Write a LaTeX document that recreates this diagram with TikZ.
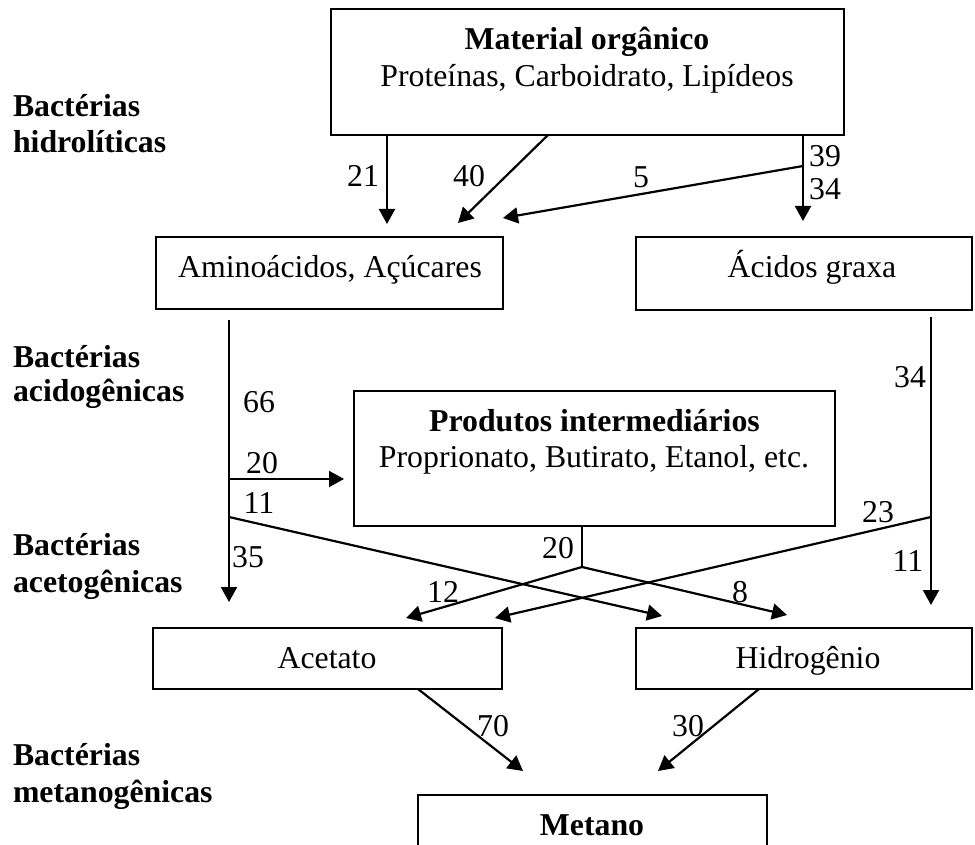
\documentclass[tikz,border=0pt]{standalone}
\usepackage{fontspec}
\setmainfont{Liberation Serif}
\usetikzlibrary{arrows.meta}
\begin{document}
\begin{tikzpicture}[x=1pt,y=-1pt,
  line width=2.2pt,
  box/.style={draw=black,line width=2.2pt,inner sep=0pt,outer sep=0pt},
  txt/.style={inner sep=0pt,outer sep=0pt,anchor=base,font=\fontsize{31.8}{38}\selectfont},
  btxt/.style={txt,font=\fontsize{31.8}{38}\selectfont\bfseries},
  side/.style={inner sep=0pt,outer sep=0pt,anchor=base west,font=\fontsize{31.8}{38}\selectfont\bfseries},
  arr/.style={-{Triangle[length=15pt,width=16pt]},line width=2.2pt},
  ln/.style={line width=2.2pt}]
\clip (0,0) rectangle (975,845);
\fill[white] (0,0) rectangle (975,845);

% boxes
\node[box,minimum width=513pt,minimum height=126pt] (mat) at (587.5,72) {};
\node[box,minimum width=347pt,minimum height=72pt] (amino) at (329.5,273) {};
\node[box,minimum width=336pt,minimum height=73pt] (acid) at (804,273.5) {};
\node[box,minimum width=481pt,minimum height=135pt] (prod) at (594.5,458.5) {};
\node[box,minimum width=349pt,minimum height=61pt] (acet) at (327.5,658.5) {};
\node[box,minimum width=336pt,minimum height=61pt] (hidro) at (804,658.5) {};
\node[box,minimum width=349pt,minimum height=120pt] (met) at (592.5,855) {};

% box texts
\node[btxt] (matT) at (587,50) {Material orgânico};
\node[txt] (matS) at (587,87) {Proteínas, Carboidrato, Lipídeos};
\node[txt] (aminoT) at (330,278) {Aminoácidos, Açúcares};
\node[txt] (acidT) at (812,277) {Ácidos graxa};
\node[btxt] (prodT) at (594.5,431) {Produtos intermediários};
\node[txt] (prodS) at (594,467) {Proprionato, Butirato, Etanol, etc.};
\node[txt] (acetT) at (327,668) {Acetato};
\node[txt] (hidroT) at (808,668) {Hidrogênio};
\node[btxt] (metT) at (592,835) {Metano};

% side labels
\node[side] (l1a) at (13,117) {Bactérias};
\node[side] (l1b) at (13,153) {hidrolíticas};
\node[side] (l2a) at (13,367) {Bactérias};
\node[side] (l2b) at (13,401) {acidogênicas};
\node[side] (l3a) at (13,555) {Bactérias};
\node[side] (l3b) at (13,592) {acetogênicas};
\node[side] (l4a) at (13,765) {Bactérias};
\node[side] (l4b) at (13,802) {metanogênicas};

% coordinates
\coordinate (t21) at (387,224);
\coordinate (s40) at (548,0);
\coordinate (t40) at (458,223);
\coordinate (c39) at (803,0);
\coordinate (j5) at (803,166);
\coordinate (t5) at (503,218);
\coordinate (t34a) at (803,221);
\coordinate (s35) at (229,320);
\coordinate (t35) at (229,602);
\coordinate (j20) at (229,479);
\coordinate (t20) at (344,479);
\coordinate (j11) at (229,517);
\coordinate (t11) at (662,616);
\coordinate (s34) at (931,317);
\coordinate (t11r) at (931,605);
\coordinate (j23) at (931,517);
\coordinate (t23) at (495,618);
\coordinate (s20p) at (582,0);
\coordinate (j20p) at (582,567);
\coordinate (t12) at (406,618);
\coordinate (t8) at (787,615);
\coordinate (s70) at (418,0);
\coordinate (t70) at (523,771);
\coordinate (s30) at (759,0);
\coordinate (t30) at (658,771);

% connectors
\draw[arr] (mat.south -| t21) -- (t21);
\draw[arr] (mat.south -| s40) -- (t40);
\draw[arr] (mat.south -| c39) -- (t34a);
\draw[arr] (j5) -- (t5);
\draw[arr] (s35) -- (t35);
\draw[arr] (j20) -- (t20);
\draw[arr] (j11) -- (t11);
\draw[arr] (s34) -- (t11r);
\draw[arr] (j23) -- (t23);
\draw[ln] (prod.south -| s20p) -- (j20p);
\draw[arr] (j20p) -- (t12);
\draw[arr] (j20p) -- (t8);
\draw[arr] (acet.south -| s70) -- (t70);
\draw[arr] (hidro.south -| s30) -- (t30);

% numbers
\node[txt] (n21) at (363,187) {21};
\node[txt] (n40) at (469,187) {40};
\node[txt] (n5) at (641,188) {5};
\node[txt] (n39) at (825,167) {39};
\node[txt] (n34a) at (825,200) {34};
\node[txt] (n66) at (259,412) {66};
\node[txt] (n20) at (262,473) {20};
\node[txt] (n11) at (259,513) {11};
\node[txt] (n35) at (248,567) {35};
\node[txt] (n34b) at (910,387) {34};
\node[txt] (n23) at (878,522) {23};
\node[txt] (n11r) at (908,571) {11};
\node[txt] (n20p) at (558,558) {20};
\node[txt] (n12) at (443,602) {12};
\node[txt] (n8) at (740,602) {8};
\node[txt] (n70) at (493,736) {70};
\node[txt] (n30) at (688,736) {30};
\end{tikzpicture}
\end{document}
